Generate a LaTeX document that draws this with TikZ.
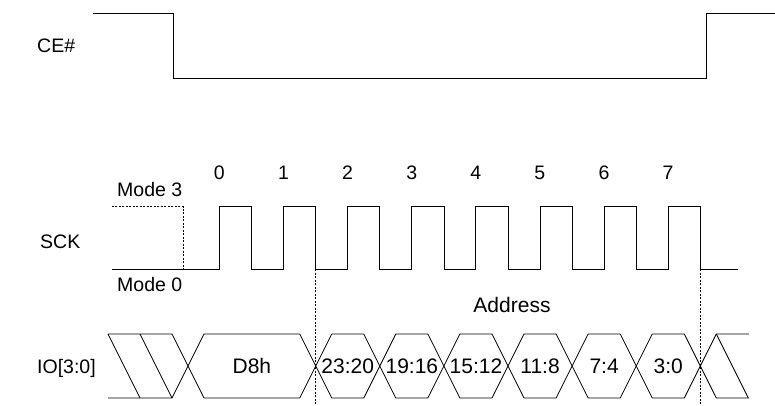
\documentclass[tikz,border=0pt]{standalone}
\usepackage{fontspec}
\setmainfont{Liberation Sans}
\begin{document}
\begin{tikzpicture}[x=1pt,y=-1pt,
  sig/.style={line width=0.8pt, line join=miter},
  guide/.style={line width=0.7pt, dash pattern=on 2pt off 1.5pt},
  lbl/.style={font=\fontsize{19.5}{22}\selectfont, inner sep=0pt},
  big/.style={font=\fontsize{21}{24}\selectfont, inner sep=0pt},
]
\useasboundingbox (0,0) rectangle (775,405);
% labels
\node[lbl, anchor=west] (ce) at (37,46) {CE\#};
\node[lbl, anchor=west] (sck) at (40,242) {SCK};
\node[lbl, anchor=west] (io) at (37,368) {IO[3:0]};
\node[lbl, anchor=west] (m3) at (117,190) {Mode 3};
\node[lbl, anchor=west] (m0) at (117,285) {Mode 0};
\node[big] (addr) at (512,305) {Address};
% CE#
\draw[sig] (92.7,13) -- (173.3,13) -- (173.3,78) -- (706.7,78) -- (706.7,13) -- (775,13);
% SCK
\draw[guide] (111.7,206.7) -- (183.3,206.7) -- (183.3,269.3);
\draw[sig] (111.7,269.3)
  \foreach \k in {0,...,7}{ -- ({219.4+64.1*\k},269.3) -- ++(0,-62.6) -- ++(32.2,0) -- ++(0,62.6) }
  -- (738.3,269.3);
\foreach \k in {0,...,7} \node[lbl] (n\k) at ({219.4+64.1*\k},173) {\k};
% guides
\draw[guide] (315.7,269.3) -- (315.7,405);
\draw[guide] (700.3,269.3) -- (700.3,405);
% IO
\draw[sig] (108,334) -- (172,334) -- (188,366) -- (172,398) -- (108,398);
\draw[sig] (108,334) -- (140,398);
\draw[sig] (140,334) -- (172,398);
\foreach \a/\b/\t in {188/315.7/D8h, 315.7/379.8/23:20, 379.8/443.9/19:16, 443.9/508.0/15:12, 508.0/572.1/11:8, 572.1/636.2/7:4, 636.2/700.3/3:0}{
  \draw[sig] (\a,366) -- (\a+16,334) -- (\b-16,334) -- (\b,366) -- (\b-16,398) -- (\a+16,398) -- cycle;
  \node[big] at ({(\a+\b)/2},366) {\t};
}
\draw[sig] (700.3,366) -- (716.3,334) -- (749,334);
\draw[sig] (700.3,366) -- (716.3,398) -- (749,398);
\draw[sig] (716.3,334) -- (748.3,398);
\end{tikzpicture}
\end{document}
